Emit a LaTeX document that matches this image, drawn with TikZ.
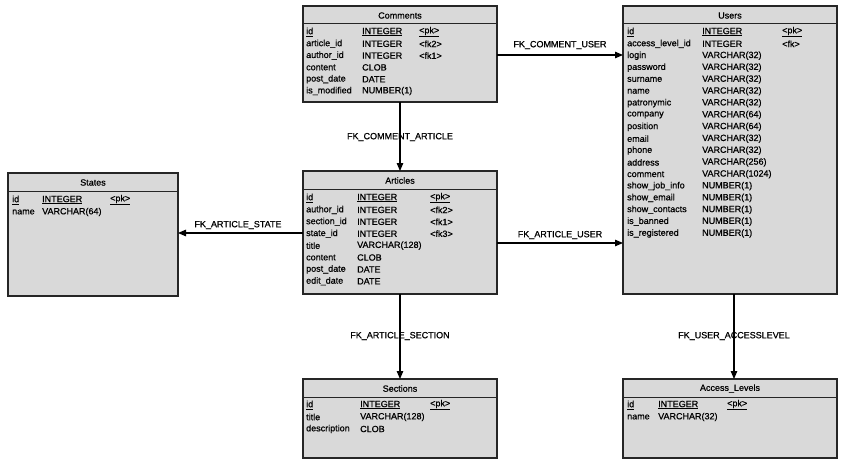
\documentclass[tikz,border=0pt]{standalone}
\usepackage{fontspec}
\setmainfont{Liberation Sans}[FakeBold=0.7]
\usetikzlibrary{arrows.meta}
\definecolor{tblfill}{HTML}{D9D9D9}
\definecolor{tblline}{HTML}{262626}
\begin{document}
\begin{tikzpicture}[x=1pt,y=-1pt,
  tbl/.style={draw=tblline, line width=1.4pt, fill=tblfill, anchor=north west, inner sep=0pt, outer sep=0pt},
  sep/.style={draw=tblline, line width=1pt},
  ttl/.style={font=\fontsize{9}{10}\selectfont, inner sep=0pt},
  cell/.style={font=\fontsize{9}{10}\selectfont, anchor=west, inner sep=0pt},
  fk/.style={draw=black, line width=1.1pt, -{Triangle[length=8pt,width=6.5pt]}},
  fklabel/.style={font=\fontsize{9}{10}\selectfont, inner sep=0pt}
]
\useasboundingbox (0,0) rectangle (841,460);

% ---------------- Comments
\node[tbl, minimum width=194pt, minimum height=96pt] (comments) at (303,6) {};
\draw[sep] ([yshift=-18pt]comments.north west) -- ([yshift=-18pt]comments.north east);
\node[ttl] (comments-t) at ([yshift=-9.5pt]comments.north) {Comments};
\node[cell] (comments-n0) at (306,32) {\underline{id}};
\node[cell] (comments-y0) at (362,32) {\underline{INTEGER}};
\node[cell] (comments-k0) at (419,32) {\underline{<pk>}};
\foreach \n/\t/\k [count=\i] in {article\_id/INTEGER/<fk2>, author\_id/INTEGER/<fk1>, content/CLOB/, post\_date/DATE/, is\_modified/NUMBER(1)/}{
  \node[cell] (comments-n\i) at (306,32+11.8*\i) {\n};
  \node[cell] (comments-y\i) at (362,32+11.8*\i) {\t};
  \node[cell] (comments-k\i) at (419,32+11.8*\i) {\k};
}

% ---------------- Users
\node[tbl, minimum width=214pt, minimum height=288pt] (users) at (623,6) {};
\draw[sep] ([yshift=-18pt]users.north west) -- ([yshift=-18pt]users.north east);
\node[ttl] (users-t) at ([yshift=-9.5pt]users.north) {Users};
\node[cell] (users-n0) at (627,32) {\underline{id}};
\node[cell] (users-y0) at (702,32) {\underline{INTEGER}};
\node[cell] (users-k0) at (782,32) {\underline{<pk>}};
\foreach \n/\t/\k [count=\i] in {access\_level\_id/INTEGER/<fk>, login/VARCHAR(32)/, password/VARCHAR(32)/, surname/VARCHAR(32)/, name/VARCHAR(32)/, patronymic/VARCHAR(32)/, company/VARCHAR(64)/, position/VARCHAR(64)/, email/VARCHAR(32)/, phone/VARCHAR(32)/, address/VARCHAR(256)/, comment/VARCHAR(1024)/, show\_job\_info/NUMBER(1)/, show\_email/NUMBER(1)/, show\_contacts/NUMBER(1)/, is\_banned/NUMBER(1)/, is\_registered/NUMBER(1)/}{
  \node[cell] (users-n\i) at (627,32+11.85*\i) {\n};
  \node[cell] (users-y\i) at (702,32+11.85*\i) {\t};
  \node[cell] (users-k\i) at (782,32+11.85*\i) {\k};
}

% ---------------- States
\node[tbl, minimum width=170pt, minimum height=123pt] (states) at (8,173) {};
\draw[sep] ([yshift=-18pt]states.north west) -- ([yshift=-18pt]states.north east);
\node[ttl] (states-t) at ([yshift=-9.5pt]states.north) {States};
\node[cell] (states-n0) at (12,200) {\underline{id}};
\node[cell] (states-y0) at (42,200) {\underline{INTEGER}};
\node[cell] (states-k0) at (110,200) {\underline{<pk>}};
\node[cell] (states-n1) at (12,212) {name};
\node[cell] (states-y1) at (42,212) {VARCHAR(64)};

% ---------------- Articles
\node[tbl, minimum width=194pt, minimum height=123pt] (articles) at (303,171) {};
\draw[sep] ([yshift=-18pt]articles.north west) -- ([yshift=-18pt]articles.north east);
\node[ttl] (articles-t) at ([yshift=-9.5pt]articles.north) {Articles};
\node[cell] (articles-n0) at (306,198) {\underline{id}};
\node[cell] (articles-y0) at (357,198) {\underline{INTEGER}};
\node[cell] (articles-k0) at (430,198) {\underline{<pk>}};
\foreach \n/\t/\k [count=\i] in {author\_id/INTEGER/<fk2>, section\_id/INTEGER/<fk1>, state\_id/INTEGER/<fk3>, title/VARCHAR(128)/, content/CLOB/, post\_date/DATE/, edit\_date/DATE/}{
  \node[cell] (articles-n\i) at (306,198+11.9*\i) {\n};
  \node[cell] (articles-y\i) at (357,198+11.9*\i) {\t};
  \node[cell] (articles-k\i) at (430,198+11.9*\i) {\k};
}

% ---------------- Sections
\node[tbl, minimum width=194pt, minimum height=79pt] (sections) at (303,379) {};
\draw[sep] ([yshift=-18pt]sections.north west) -- ([yshift=-18pt]sections.north east);
\node[ttl] (sections-t) at ([yshift=-9.5pt]sections.north) {Sections};
\node[cell] (sections-n0) at (306,405) {\underline{id}};
\node[cell] (sections-y0) at (360,405) {\underline{INTEGER}};
\node[cell] (sections-k0) at (430,405) {\underline{<pk>}};
\node[cell] (sections-n1) at (306,417) {title};
\node[cell] (sections-y1) at (360,417) {VARCHAR(128)};
\node[cell] (sections-n2) at (306,429) {description};
\node[cell] (sections-y2) at (360,429) {CLOB};

% ---------------- Access_Levels
\node[tbl, minimum width=214pt, minimum height=79pt] (access) at (623,379) {};
\draw[sep] ([yshift=-18pt]access.north west) -- ([yshift=-18pt]access.north east);
\node[ttl] (access-t) at ([yshift=-9.5pt]access.north) {Access\_Levels};
\node[cell] (access-n0) at (627,405) {\underline{id}};
\node[cell] (access-y0) at (658,405) {\underline{INTEGER}};
\node[cell] (access-k0) at (727,405) {\underline{<pk>}};
\node[cell] (access-n1) at (627,417) {name};
\node[cell] (access-y1) at (658,417) {VARCHAR(32)};

% ---------------- References
\draw[fk] (comments.east |- 0,55) -- (users.west |- 0,55);
\node[fklabel] (l-cu) at (560,45) {FK\_COMMENT\_USER};

\draw[fk] (comments.south) -- (articles.north);
\node[fklabel] (l-ca) at (400,137) {FK\_COMMENT\_ARTICLE};

\draw[fk] (articles.west |- 0,233) -- (states.east |- 0,233);
\node[fklabel] (l-as) at (238,225) {FK\_ARTICLE\_STATE};

\draw[fk] (articles.east |- 0,243) -- (users.west |- 0,243);
\node[fklabel] (l-au) at (560,235) {FK\_ARTICLE\_USER};

\draw[fk] (articles.south) -- (sections.north);
\node[fklabel] (l-asec) at (400,336) {FK\_ARTICLE\_SECTION};

\draw[fk] (users.south -| 734,0) -- (access.north -| 734,0);
\node[fklabel] (l-ua) at (734,336) {FK\_USER\_ACCESSLEVEL};
\end{tikzpicture}
\end{document}
